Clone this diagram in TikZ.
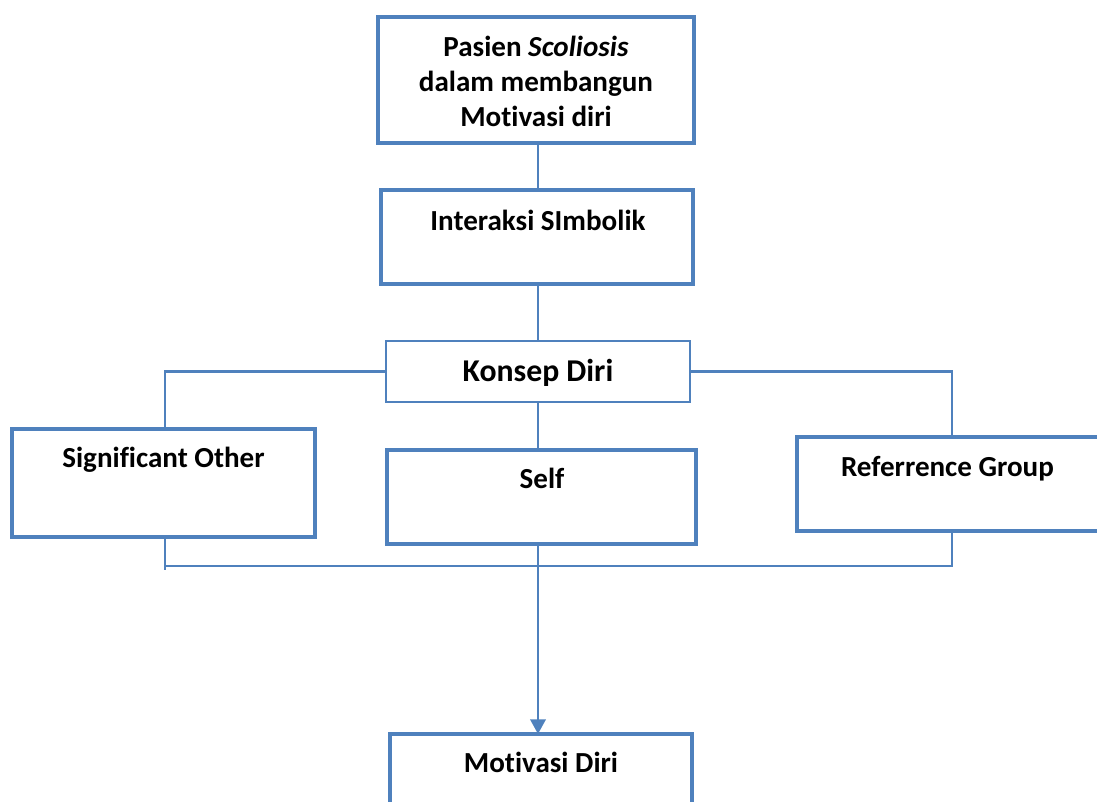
\documentclass[tikz,border=0pt]{standalone}
\usepackage{fontspec}
\setmainfont[Ligatures=NoCommon]{Carlito}
\usetikzlibrary{arrows.meta,calc}
\definecolor{boxblue}{HTML}{4F81BD}
\tikzset{
  thickbox/.style={draw=boxblue, line width=3.4pt, fill=white, rectangle, inner sep=0pt, outer sep=0pt},
  thinbox/.style={draw=boxblue, line width=1.8pt, fill=white, rectangle, inner sep=0pt, outer sep=0pt},
  conn/.style={draw=boxblue, line width=1.9pt},
  lbl/.style={anchor=base, inner sep=0pt, font=\fontsize{21.8}{26.6}\selectfont\bfseries},
  biglbl/.style={anchor=base, inner sep=0pt, font=\fontsize{23.8}{28}\selectfont\bfseries}
}
\begin{document}
\begin{tikzpicture}[x=0.75pt,y=-0.75pt]
\useasboundingbox (0,0) rectangle (1097,801);
% boxes
\node[thickbox, minimum width=237pt, minimum height=94.5pt] (top) at (536,80) {};
\node[thickbox, minimum width=234pt, minimum height=70.5pt] (inter) at (537,237) {};
\node[thinbox, minimum width=228pt, minimum height=45.75pt] (kon) at (538,371.5) {};
\node[thickbox, minimum width=227.25pt, minimum height=81pt] (sig) at (163.5,483) {};
\node[thickbox, minimum width=231.75pt, minimum height=70.5pt] (self) at (541.5,497) {};
\node[thickbox, minimum width=227.25pt, minimum height=70.5pt] (ref) at (948.5,484) {};
\node[thickbox, minimum width=226.5pt, minimum height=75pt] (mot) at (541,784) {};
% texts
\node[lbl] (t1) at (536,56) {\begin{tabular}[t]{@{}c@{}}Pasien \textit{Scoliosis}\\dalam membangun\\Motivasi diri\end{tabular}};
\node[lbl] (t2) at (538,230) {Interaksi SImbolik};
\node[biglbl] (t3) at (538,381) {Konsep Diri};
\node[lbl] (t4) at (163.5,467) {Significant Other};
\node[lbl] (t5) at (542,488) {Self};
\node[lbl] (t6) at (947.5,476) {Referrence Group};
\node[lbl] (t7) at (541,772) {Motivasi Diri};
% connectors
\coordinate (jl) at (165,566);
\coordinate (jr) at (952,566);
\draw[conn] (top.south -| kon.north) -- (inter.north -| kon.north);
\draw[conn] (inter.south -| kon.north) -- (kon.north);
\draw[conn] (kon.west) -| (sig.north -| jl);
\draw[conn] (kon.east) -| (ref.north -| jr);
\draw[conn] (kon.south) -- (self.north -| kon.south);
\draw[conn] (sig.south -| jl) -- ($(jl)+(0,4)$);
\draw[conn] (jl) -- (jr) -- (ref.south -| jr);
\draw[conn, -{Triangle[length=11pt,width=11.5pt]}] (self.south -| kon.south) -- (mot.north -| kon.south);
\end{tikzpicture}
\end{document}
